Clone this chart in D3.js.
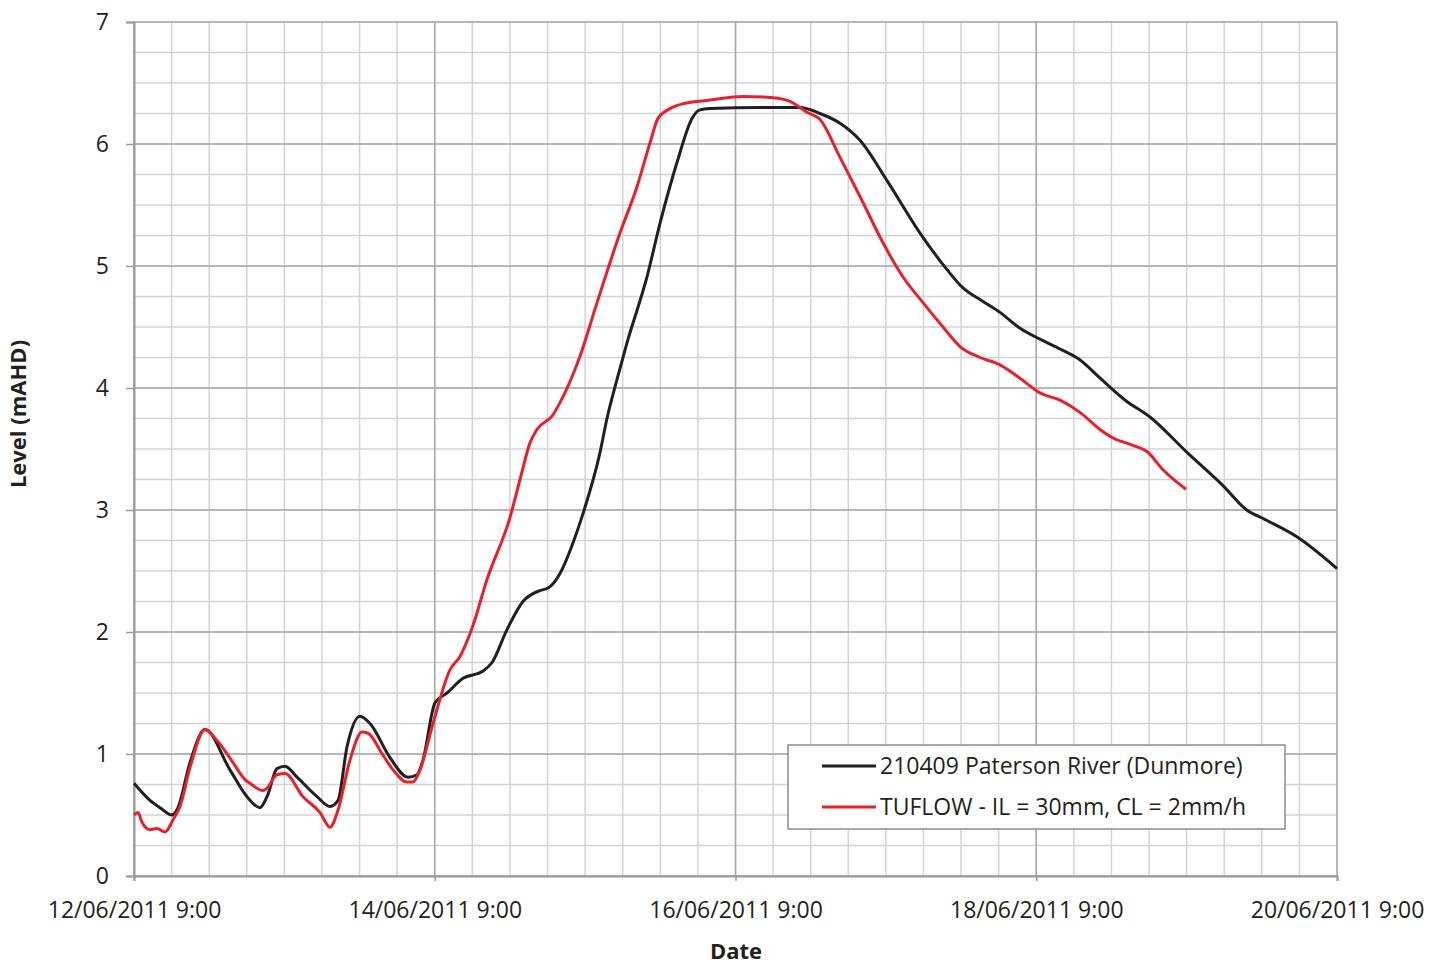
<!DOCTYPE html>
<html>
<head>
<meta charset="utf-8">
<script src="https://cdn.jsdelivr.net/npm/d3@7"></script>
<style>
  body { margin: 0; background: #fff; }
  svg { display: block; }
  text { font-family: "Open Sans", "DejaVu Sans", sans-serif; fill: #231f20; }
</style>
</head>
<body>
<svg id="chart" width="1439" height="967"></svg>
<script>
// ---- Data (hours after 12/06/2011 9:00, level in mAHD) ----
const startDate = new Date(2011, 5, 12, 9, 0);
const observedHours = [0, 2.55, 4.15, 6.06, 7.02, 8.94, 11.33, 15.32, 18.03, 20.11, 21.23, 22.82, 24.1, 26.02, 29.21, 31.28, 32.56, 34.0, 36.07, 37.67, 40.86, 43.73, 45.17, 46.12, 48.04, 49.95, 52.51, 55.7, 57.14, 59.53, 62.08, 64.8, 66.08, 67.99, 70.06, 71.66, 74.37, 75.49, 77.09, 78.68, 81.87, 83.95, 86.67, 89.06, 90.33, 91.93, 99.91, 106.3, 109.49, 112.68, 115.87, 120.18, 125.45, 129.76, 132.31, 135.5, 138.21, 141.41, 144.6, 147.8, 151.0, 154.2, 158.2, 162.2, 168.1, 173.8, 177.6, 180.2, 185.6, 192.0];
const observedLevel = [0.76, 0.62, 0.56, 0.50, 0.56, 0.93, 1.20, 0.87, 0.65, 0.56, 0.65, 0.88, 0.90, 0.81, 0.65, 0.57, 0.62, 1.06, 1.31, 1.25, 0.97, 0.81, 0.83, 0.95, 1.42, 1.50, 1.62, 1.68, 1.75, 2.02, 2.25, 2.34, 2.36, 2.48, 2.73, 2.97, 3.47, 3.75, 4.07, 4.37, 4.91, 5.35, 5.85, 6.21, 6.28, 6.29, 6.30, 6.30, 6.25, 6.17, 6.03, 5.70, 5.27, 4.97, 4.82, 4.71, 4.62, 4.49, 4.40, 4.32, 4.23, 4.08, 3.90, 3.76, 3.47, 3.20, 3.00, 2.93, 2.78, 2.52];

const tuflowHours = [0, 0.64, 1.28, 2.55, 3.67, 4.95, 6.22, 7.34, 8.94, 11.33, 13.25, 15.8, 17.72, 18.51, 20.59, 21.23, 22.82, 24.1, 26.97, 29.69, 31.28, 32.56, 34.47, 36.39, 37.35, 39.74, 41.34, 43.57, 44.53, 45.65, 47.72, 50.43, 52.03, 53.95, 56.34, 60.01, 61.61, 63.2, 64.32, 66.87, 67.99, 71.18, 73.9, 77.56, 80.28, 82.36, 83.63, 85.55, 87.62, 91.93, 97.2, 101.98, 104.7, 107.41, 109.49, 112.68, 115.87, 119.54, 122.73, 125.92, 129.12, 131.83, 135.02, 138.21, 141.41, 144.6, 147.79, 150.98, 154.17, 156.25, 159.44, 161.67, 164.23, 167.9];
const tuflowLevel = [0.50, 0.52, 0.44, 0.38, 0.39, 0.36, 0.46, 0.57, 0.89, 1.20, 1.11, 0.93, 0.79, 0.76, 0.70, 0.72, 0.83, 0.84, 0.65, 0.52, 0.40, 0.54, 0.95, 1.18, 1.17, 0.99, 0.87, 0.77, 0.77, 0.87, 1.25, 1.69, 1.80, 2.03, 2.43, 2.94, 3.25, 3.55, 3.66, 3.78, 3.88, 4.26, 4.70, 5.27, 5.65, 6.01, 6.21, 6.29, 6.33, 6.36, 6.39, 6.38, 6.35, 6.26, 6.20, 5.89, 5.57, 5.19, 4.91, 4.70, 4.50, 4.34, 4.25, 4.19, 4.08, 3.96, 3.90, 3.80, 3.66, 3.59, 3.53, 3.48, 3.33, 3.17];

const seriesNames = ["210409 Paterson River (Dunmore)", "TUFLOW - IL = 30mm, CL = 2mm/h"];
const seriesColors = ["#231f20", "#e8202a"];
const xTickLabels = ["12/06/2011 9:00", "14/06/2011 9:00", "16/06/2011 9:00", "18/06/2011 9:00", "20/06/2011 9:00"];
const yTicks = [0, 1, 2, 3, 4, 5, 6, 7];

(function () {
// ---- Layout ----
const svg = d3.select("#chart");
const pLeft = 134, pRight = 1337, pTop = 22, pBottom = 876;
const hourMs = 3600 * 1000;
const toDate = h => new Date(startDate.getTime() + h * hourMs);
const endDate = toDate(192);

const x = d3.scaleTime().domain([startDate, endDate]).range([pLeft, pRight]);
const y = d3.scaleLinear().domain([0, 7]).range([pBottom, pTop]);

// minor grid
const minorX = d3.range(0, 193, 6).map(toDate);
const minorY = d3.range(0, 7.001, 0.25);
const g = svg.append("g");
g.selectAll("line.mx").data(minorX).enter().append("line")
  .attr("x1", d => x(d)).attr("x2", d => x(d)).attr("y1", pTop).attr("y2", pBottom)
  .attr("stroke", "#d4d4d4").attr("stroke-width", 1.5);
g.selectAll("line.my").data(minorY).enter().append("line")
  .attr("x1", pLeft).attr("x2", pRight).attr("y1", d => y(d)).attr("y2", d => y(d))
  .attr("stroke", "#d4d4d4").attr("stroke-width", 1.5);
// major grid
const majorX = d3.range(0, 193, 48).map(toDate);
g.selectAll("line.Mx").data(majorX).enter().append("line")
  .attr("x1", d => x(d)).attr("x2", d => x(d)).attr("y1", pTop).attr("y2", pBottom)
  .attr("stroke", "#a9a9a9").attr("stroke-width", 1.5);
g.selectAll("line.My").data(yTicks).enter().append("line")
  .attr("x1", pLeft).attr("x2", pRight).attr("y1", d => y(d)).attr("y2", d => y(d))
  .attr("stroke", "#a9a9a9").attr("stroke-width", 1.5);

// axes
const xAxis = d3.axisBottom(x).tickValues(majorX).tickSize(5)
  .tickFormat((d, i) => xTickLabels[i]);
const xa = svg.append("g").attr("transform", `translate(0,${pBottom})`).call(xAxis);
xa.select(".domain").attr("stroke", "#9a9a9a").attr("stroke-width", 2);
xa.selectAll(".tick line").attr("stroke", "#9a9a9a").attr("stroke-width", 1.5);
xa.selectAll(".tick text").attr("font-size", 23).attr("y", 26)
  .attr("font-family", "'Open Sans', sans-serif").attr("fill", "#231f20");

const yAxis = d3.axisLeft(y).tickValues(yTicks).tickSize(8).tickFormat(d3.format("d"));
const ya = svg.append("g").attr("transform", `translate(${pLeft},0)`).call(yAxis);
ya.select(".domain").attr("stroke", "#9a9a9a").attr("stroke-width", 2);
ya.selectAll(".tick line").attr("stroke", "#9a9a9a").attr("stroke-width", 1.5);
ya.selectAll(".tick text").attr("font-size", 23).attr("x", -25)
  .attr("font-family", "'Open Sans', sans-serif").attr("fill", "#231f20");

// axis titles
svg.append("text").attr("x", 736).attr("y", 959).attr("text-anchor", "middle")
  .attr("font-size", 22).attr("font-weight", "bold").text("Date");
svg.append("text").attr("transform", "translate(26,414) rotate(-90)").attr("text-anchor", "middle")
  .attr("font-size", 22).attr("font-weight", "bold").text("Level (mAHD)");

// lines
const line = d3.line().x(d => x(toDate(d[0]))).y(d => y(d[1])).curve(d3.curveMonotoneX);
const obs = observedHours.map((h, i) => [h, observedLevel[i]]);
const tuf = tuflowHours.map((h, i) => [h, tuflowLevel[i]]);
svg.append("path").datum(obs).attr("d", line).attr("fill", "none")
  .attr("stroke", seriesColors[0]).attr("stroke-width", 3).attr("stroke-linejoin", "round");
svg.append("path").datum(tuf).attr("d", line).attr("fill", "none")
  .attr("stroke", seriesColors[1]).attr("stroke-width", 3).attr("stroke-linejoin", "round");

// legend
const lg = svg.append("g");
lg.append("rect").attr("x", 788).attr("y", 745).attr("width", 497).attr("height", 84)
  .attr("fill", "#fff").attr("stroke", "#8c8c8c").attr("stroke-width", 1.5);
seriesNames.forEach((name, i) => {
  const yy = 766 + i * 41;
  lg.append("line").attr("x1", 822).attr("x2", 876).attr("y1", yy).attr("y2", yy)
    .attr("stroke", seriesColors[i]).attr("stroke-width", 3);
  lg.append("text").attr("x", 880).attr("y", yy).attr("dy", "0.35em")
    .attr("font-size", 23).text(name);
});
})();
</script>
</body>
</html>
